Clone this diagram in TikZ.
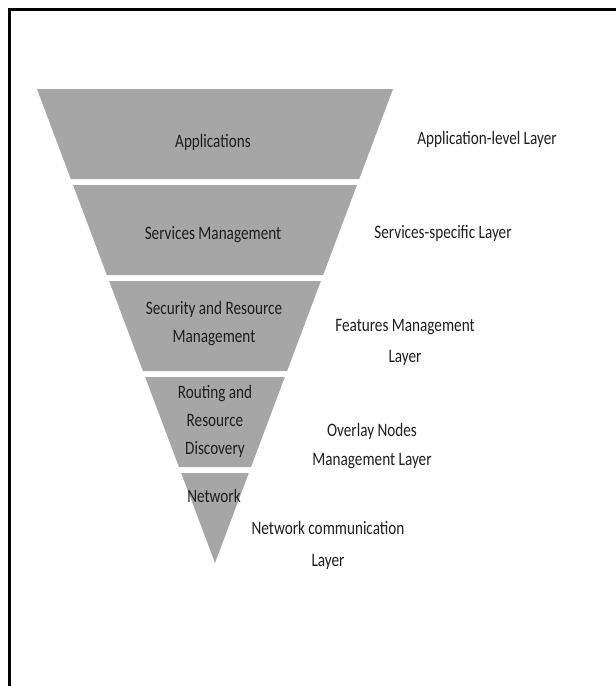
\documentclass[tikz,border=0pt]{standalone}
\usepackage{fontspec}
\setmainfont[FakeStretch=0.8]{Carlito}
\definecolor{bandgray}{RGB}{166,166,166}
\definecolor{inkgray}{RGB}{30,30,30}
\begin{document}
\begin{tikzpicture}[x=1pt,y=-1pt,
  band/.style={fill=bandgray,draw=none},
  intext/.style={inner sep=0pt,align=center,text=inkgray,font=\fontsize{19}{28}\selectfont},
  sidetext/.style={inner sep=0pt,align=center,text=inkgray,font=\fontsize{19}{31}\selectfont},
  frameline/.style={line width=2.4pt,black}]
\useasboundingbox (0,0) rectangle (616,686);
% frame (only top and left edges visible)
\coordinate (fbl) at (9.5,686);
\coordinate (ftl) at (9.5,9.5);
\coordinate (ftr) at (616,9.5);
\draw[frameline] (fbl) -- (ftl) -- (ftr);
% bands of the inverted pyramid
\fill[band] ({215-178},89) -- ({215+178},89) -- ({215+144.2},179) -- ({215-144.2},179) -- cycle;
\fill[band] ({215-141.95},185) -- ({215+141.95},185) -- ({215+108.15},275) -- ({215-108.15},275) -- cycle;
\fill[band] ({215-105.9},281) -- ({215+105.9},281) -- ({215+72.1},371) -- ({215-72.1},371) -- cycle;
\fill[band] ({215-69.85},377) -- ({215+69.85},377) -- ({215+36.05},467) -- ({215-36.05},467) -- cycle;
\fill[band] ({215-33.8},473) -- ({215+33.8},473) -- (215,563) -- cycle;
% texts inside
\node[intext] (app) at (213,142) {Applications};
\node[intext] (serv) at (213,235) {Services Management};
\node[intext] (sec) at (214,324) {Security and Resource\\Management};
\node[intext] (rout) at (215,421) {Routing and\\Resource\\Discovery};
\node[intext] (net) at (214,496) {Network};
% side texts
\node[sidetext] (lapp) at (487,139) {Application-level Layer};
\node[sidetext] (lserv) at (443,233) {Services-specific Layer};
\node[sidetext] (lfeat) at (405,342) {Features Management\\Layer};
\node[sidetext,font=\fontsize{19}{29}\selectfont] (lover) at (372,446) {Overlay Nodes\\Management Layer};
\node[sidetext,font=\fontsize{19}{32}\selectfont] (lnet) at (328,545) {Network communication\\Layer};
\end{tikzpicture}
\end{document}
